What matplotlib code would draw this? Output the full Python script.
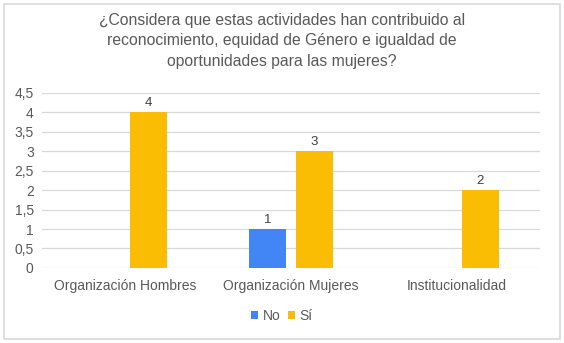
import matplotlib
matplotlib.use("Agg")
import matplotlib.pyplot as plt
import matplotlib.patches as mpatches
import numpy as np

matplotlib.rc('font', family=['Liberation Sans', 'DejaVu Sans'])

categories = ['Organización Hombres', 'Organización Mujeres', 'Institucionalidad']
series_names = ['No', 'Sí']
no_values = [0, 1, 0]
si_values = [4, 3, 2]
yticks = [0, 0.5, 1, 1.5, 2, 2.5, 3, 3.5, 4, 4.5]

colors = {'No': '#4285F4', 'Sí': '#FBBC04'}
text_color = '#595959'

fig = plt.figure(figsize=(5.64, 3.43), dpi=100)
ax = fig.add_axes([0.0745, 0.219, 0.883, 0.51])

# outer frame of the chart
fig.patches.append(mpatches.Rectangle((0.007, 0.012), 0.986, 0.976, transform=fig.transFigure,
                                      fill=False, edgecolor='#d9d9d9', linewidth=1.2))

ind = np.arange(len(categories))
width = 0.225
offset = 0.14

for vals, name, sign in [(no_values, 'No', -1), (si_values, 'Sí', 1)]:
    bars = ax.bar(ind + sign * offset, vals, width=width, color=colors[name], label=name, zorder=3)
    for b, v in zip(bars, vals):
        if v > 0:
            ax.text(b.get_x() + b.get_width() / 2, v + 0.08, str(v), ha='center', va='bottom',
                    fontsize=9.5, color='#404040')

ax.set_xlim(-0.5, len(categories) - 0.5)
ax.set_ylim(0, 4.5)
ax.set_yticks(yticks)
ax.set_yticklabels([str(t).replace('.', ',') if t % 1 else str(int(t)) for t in yticks])
ax.set_xticks(ind)
ax.set_xticklabels(categories)
ax.tick_params(axis='both', length=0, labelsize=10, labelcolor=text_color)
ax.tick_params(axis='x', pad=8)
ax.tick_params(axis='y', pad=6)
ax.grid(axis='y', color='#d9d9d9', linewidth=0.9, zorder=0)
for s in ax.spines.values():
    s.set_visible(False)

fig.text(0.5, 0.962, '¿Considera que estas actividades han contribuido al\n'
         'reconocimiento, equidad de Género e igualdad de\n'
         'oportunidades para las mujeres?', ha='center', va='top',
         fontsize=11.3, color=text_color, linespacing=1.45)

ax.legend(loc='center', bbox_to_anchor=(0.5, 0.08), bbox_transform=fig.transFigure, ncol=2,
          frameon=False, fontsize=10, labelcolor=text_color, handlelength=0.5, handleheight=0.5,
          handletextpad=0.3, columnspacing=0.6)

fig.savefig('out.png', dpi=100)
